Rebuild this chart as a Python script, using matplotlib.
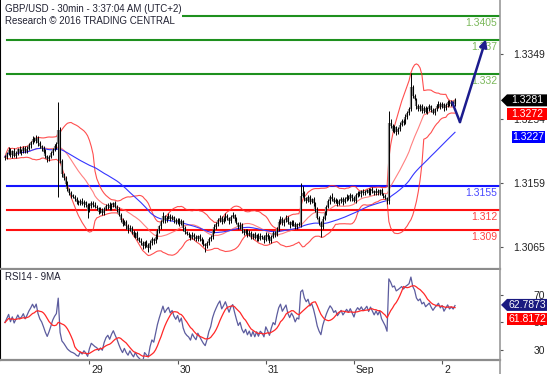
import numpy as np
import pandas as pd
import matplotlib
matplotlib.use('Agg')
import matplotlib.pyplot as plt
import matplotlib.transforms as mtransforms
from matplotlib.patches import Polygon, Rectangle
from matplotlib.lines import Line2D

plt.rcParams['font.family'] = ['Liberation Sans', 'DejaVu Sans']

# GBP/USD 30min closes, one per bar
first_open = 1.3196
closes = [
    1.3198, 1.3203, 1.3208, 1.3200, 1.3206, 1.3199, 1.3204, 1.3209, 1.3205, 1.3207, 1.3211, 1.3206, 1.3210,
    1.3215, 1.3219, 1.3224, 1.3221, 1.3226, 1.3218, 1.3213, 1.3210, 1.3205, 1.3199, 1.3194, 1.3198, 1.3203,
    1.3209, 1.3213, 1.3216,
    1.3238,
    1.3192, 1.3172, 1.3166, 1.3158, 1.3150, 1.3145, 1.3141, 1.3139, 1.3136, 1.3131, 1.3129,
    1.3133, 1.3128, 1.3131, 1.3126, 1.3118, 1.3125, 1.3130, 1.3127, 1.3124,
    1.3122, 1.3117, 1.3119, 1.3115, 1.3121,
    1.3125, 1.3127, 1.3122, 1.3126, 1.3129, 1.3124, 1.3119,
    1.3112, 1.3105, 1.3099, 1.3102,
    1.3095, 1.3090, 1.3093, 1.3087, 1.3082, 1.3085, 1.3078, 1.3074,
    1.3070, 1.3066, 1.3072, 1.3068, 1.3064, 1.3071,
    1.3076, 1.3073, 1.3080,
    1.3088, 1.3095, 1.3102,
    1.3110, 1.3104, 1.3108, 1.3111, 1.3106, 1.3109, 1.3104,
    1.3101, 1.3105, 1.3099, 1.3103,
    1.3093, 1.3087, 1.3084,
    1.3082, 1.3078, 1.3083, 1.3079, 1.3076, 1.3081, 1.3077,
    1.3073, 1.3069, 1.3066, 1.3070, 1.3076,
    1.3080, 1.3088, 1.3094, 1.3099, 1.3104, 1.3108, 1.3102, 1.3106, 1.3111, 1.3107, 1.3103, 1.3109, 1.3112, 1.3106,
    1.3100, 1.3094, 1.3097, 1.3090, 1.3086,
    1.3089, 1.3083, 1.3086, 1.3080, 1.3084,
    1.3078, 1.3082, 1.3077, 1.3081, 1.3079, 1.3075, 1.3083, 1.3079,
    1.3074, 1.3080, 1.3085, 1.3083, 1.3092, 1.3101,
    1.3106, 1.3100, 1.3104, 1.3108, 1.3101, 1.3097,
    1.3102, 1.3099, 1.3094, 1.3098, 1.3097,
    1.3140, 1.3145, 1.3137,
    1.3133, 1.3138, 1.3131, 1.3135, 1.3129,
    1.3120, 1.3108, 1.3100, 1.3094, 1.3106,
    1.3115, 1.3124, 1.3132, 1.3139, 1.3136, 1.3131,
    1.3134, 1.3128, 1.3132, 1.3136, 1.3131, 1.3135,
    1.3139, 1.3136, 1.3141, 1.3137, 1.3133,
    1.3141, 1.3145, 1.3143, 1.3147, 1.3144, 1.3146,
    1.3149, 1.3145, 1.3150, 1.3147, 1.3144,
    1.3148, 1.3145, 1.3149, 1.3143, 1.3140, 1.3137, 1.3132,
    1.3248,
    1.3243, 1.3236, 1.3241, 1.3234, 1.3239,
    1.3245, 1.3251, 1.3248, 1.3257,
    1.3262, 1.3268,
    1.3300,
    1.3288, 1.3283, 1.3272,
    1.3268, 1.3273, 1.3266, 1.3270,
    1.3264, 1.3268, 1.3272, 1.3267, 1.3263, 1.3268,
    1.3272, 1.3276, 1.3271, 1.3275, 1.3269,
    1.3274, 1.3279, 1.3275, 1.3278, 1.3276, 1.3281,
]

# wick sizes in pips above max(open, close) / below min(open, close)
wick_hi = [
    3, 2, 4, 3, 2, 5, 3, 2, 4, 3, 2, 3, 4, 3, 2, 5, 3, 4, 2, 3,
    2, 3, 4, 2, 3, 3, 2, 4, 3, 40, 4, 3, 2, 3, 4, 2, 3, 2, 3, 2,
    3, 2, 4, 3, 2, 3, 4, 2, 3, 4, 3, 2, 4, 3, 2, 3, 2, 4, 3, 2,
    3, 2, 4, 3, 2, 3, 2, 3, 4, 2, 3, 2, 3, 2, 4, 3, 2, 3, 2, 4,
    3, 2, 4, 3, 2, 3, 7, 2, 3, 4, 2, 3, 2, 4, 3, 2, 3, 2, 3, 2,
    3, 2, 4, 2, 3, 2, 3, 2, 3, 2, 4, 3, 2, 3, 4, 2, 3, 4, 2, 3,
    4, 3, 2, 3, 4, 2, 3, 2, 4, 3, 2, 3, 2, 4, 3, 2, 3, 2, 3, 4,
    2, 3, 4, 2, 3, 2, 3, 4, 2, 3, 4, 3, 2, 4, 3, 2, 3, 2, 3, 2,
    3, 19, 10, 3, 2, 4, 3, 2, 3, 2, 3, 2, 3, 4, 3, 2, 4, 3, 6, 2,
    3, 2, 4, 3, 2, 3, 4, 2, 3, 2, 3, 4, 2, 3, 2, 4, 3, 2, 3, 2,
    3, 2, 4, 3, 2, 3, 2, 3, 2, 18, 6, 3, 4, 2, 3, 4, 3, 2, 4, 3,
    3, 21, 4, 3, 2, 4, 3, 2, 3, 2, 3, 4, 2, 3, 2, 3, 4, 2, 3, 2,
    3, 2, 3, 4, 2, 3,
]
wick_lo = [
    3, 4, 2, 3, 4, 2, 3, 3, 2, 4, 3, 2, 3, 2, 4, 3, 2, 3, 4, 2,
    3, 2, 3, 4, 3, 2, 3, 2, 3, 78, 3, 4, 2, 3, 2, 3, 4, 2, 3, 3,
    2, 3, 2, 4, 3, 10, 2, 3, 4, 2, 3, 4, 2, 3, 3, 2, 4, 3, 2, 3,
    2, 3, 2, 4, 3, 2, 3, 4, 2, 3, 2, 4, 3, 2, 3, 4, 2, 3, 7, 2,
    3, 4, 2, 3, 2, 3, 2, 4, 3, 2, 3, 2, 4, 2, 3, 3, 2, 4, 3, 2,
    2, 3, 2, 4, 3, 2, 3, 4, 3, 8, 2, 3, 2, 3, 2, 3, 4, 2, 3, 2,
    3, 2, 4, 3, 2, 3, 2, 3, 2, 4, 3, 2, 3, 2, 4, 3, 2, 4, 3, 2,
    3, 4, 2, 3, 4, 3, 2, 3, 2, 3, 2, 3, 4, 2, 3, 4, 2, 3, 2, 3,
    2, 3, 2, 4, 3, 2, 3, 2, 4, 3, 2, 3, 15, 3, 2, 3, 2, 4, 3, 2,
    2, 3, 2, 3, 4, 2, 3, 2, 3, 4, 2, 3, 2, 3, 4, 2, 3, 2, 3, 4,
    2, 3, 2, 4, 3, 2, 3, 2, 4, 4, 3, 2, 3, 4, 2, 3, 2, 3, 2, 3,
    2, 3, 3, 2, 4, 3, 2, 3, 4, 2, 3, 2, 3, 2, 4, 3, 2, 3, 2, 3,
    2, 3, 2, 3, 2, 3,
]

day_ticks = [46, 94, 142, 190, 238]
day_labels = ['29', '30', '31', 'Sep', '2']
price_ticks = [1.3065, 1.3159, 1.3254, 1.3349]
rsi_ticks = [30, 50, 70]

green_levels = [1.3405, 1.337, 1.332]
blue_levels = [1.3155]
red_levels = [1.312, 1.309]

# analyst forecast path (bar index, price)
forecast_x = [243.5, 247.7, 261.8]
forecast_y = [1.3278, 1.3249, 1.3371]

# value tags on the right
price_tags = [(1.3281, '1.3281', 'black'), (1.3272, '1.3272', '#ff0000'), (1.3227, '1.3227', '#0000ff')]
rsi_tags = [(62.7873, '62.7873', '#1a1a80'), (61.8172, '61.8172', '#ff0000')]

# ---- indicators
s = pd.Series(closes)
bb_mid = s.rolling(20, min_periods=1).mean()
bb_sd = s.rolling(20, min_periods=1).std(ddof=0)
bb_up = bb_mid + 2 * bb_sd
bb_dn = bb_mid - 2 * bb_sd
ma50 = s.rolling(50, min_periods=1).mean()

delta = s.diff()
gain = delta.clip(lower=0)
loss = -delta.clip(upper=0)
gain.iloc[0] = loss.iloc[0] = 0.0003  # neutral seed
rsi = 100 - 100 / (1 + gain.ewm(alpha=1 / 14, adjust=False).mean() / loss.ewm(alpha=1 / 14, adjust=False).mean())
rsi_ma = rsi.rolling(9, min_periods=1).mean()

x = np.arange(len(closes))
opens = np.array([first_open] + closes[:-1])
cl = np.array(closes)
highs = np.maximum(opens, cl) + np.array(wick_hi) * 1e-4
lows = np.minimum(opens, cl) - np.array(wick_lo) * 1e-4

# ---- figure
W, H = 554, 374
fig = plt.figure(figsize=(W / 100, H / 100), dpi=100)
ax = fig.add_axes([0, 1 - 269 / H, 500 / W, 269 / H])
ax2 = fig.add_axes([0, 1 - 360 / H, 500 / W, 90 / H])

xlim = (-2.7, 269.5)
for a in (ax, ax2):
    a.set_xlim(*xlim)
    a.spines['top'].set_visible(False)
    a.spines['left'].set_color('black')
    a.spines['left'].set_linewidth(0.8)
    a.spines['right'].set_visible(False)
    a.spines['bottom'].set_color('#8c8c8c')
    a.spines['bottom'].set_linewidth(1.6)
    a.yaxis.tick_right()
    a.tick_params(axis='y', length=2.5, width=0.8, color='#555555', labelsize=7.5,
                  labelcolor='#222222', pad=30)
ax.set_ylim(1.30323, 1.3429)
ax2.set_ylim(22.7, 88.2)

# level lines
for lv in green_levels:
    ax.axhline(lv, xmin=0.014, color='#1e901e', lw=1.5)
    ax.annotate(f'{lv:g}', xy=(0.994, lv), xycoords=('axes fraction', 'data'), xytext=(0, -1.5),
                textcoords='offset points', ha='right', va='top', fontsize=7.5, color='#7ab85a')
for lv in blue_levels:
    ax.axhline(lv, xmin=0.014, color='#1414ff', lw=1.5)
    ax.annotate(f'{lv:g}', xy=(0.994, lv), xycoords=('axes fraction', 'data'), xytext=(0, -1.5),
                textcoords='offset points', ha='right', va='top', fontsize=7.5, color='#4848ff')
for lv in red_levels:
    ax.axhline(lv, xmin=0.014, color='#ff1010', lw=1.5)
    ax.annotate(f'{lv:g}', xy=(0.994, lv), xycoords=('axes fraction', 'data'), xytext=(0, -1.5),
                textcoords='offset points', ha='right', va='top', fontsize=7.5, color='#ff4040')

# indicators
ax.plot(x, bb_up, color='#ff3030', lw=0.8, alpha=0.85)
ax.plot(x, bb_dn, color='#ff3030', lw=0.8, alpha=0.85)
ax.plot(x, bb_mid, color='#ff6060', lw=0.8, alpha=0.8)
ax.plot(x, ma50, color='#3535ff', lw=0.8)

# price bars
ax.vlines(x, opens, cl, color='#8a8a8a', lw=1.6)
ax.vlines(x, lows, highs, color='black', lw=0.7)

# forecast arrow
navy = '#1c1c8e'
ax.plot(forecast_x[:2], forecast_y[:2], color=navy, lw=1.8, solid_capstyle='round')
ax.annotate('', xy=(forecast_x[2], forecast_y[2]), xytext=(forecast_x[1], forecast_y[1]),
            arrowprops=dict(arrowstyle='-|>', color=navy, lw=1.8, mutation_scale=11,
                            shrinkA=0, shrinkB=0))

ax.set_yticks(price_ticks)
ax.set_yticklabels([f'{t:.4f}' for t in price_ticks])
ax.set_xticks([])

# RSI panel
ax2.plot(x, rsi, color='#26267e', lw=0.9, alpha=0.75)
ax2.plot(x, rsi_ma, color='#ff2828', lw=0.9)
ax2.set_yticks(rsi_ticks)
ax2.set_yticklabels([str(t) for t in rsi_ticks])
ax2.set_xticks(day_ticks)
ax2.set_xticklabels(day_labels)
ax2.tick_params(axis='x', length=3, width=0.8, color='#555555', labelsize=7.5,
                labelcolor='#222222', pad=0.5)
shift = mtransforms.ScaledTranslation(2 / 100, 0, fig.dpi_scale_trans)
for lab in ax2.get_xticklabels():
    lab.set_ha('left')
    lab.set_transform(lab.get_transform() + shift)
for a in (ax, ax2):
    for lab in a.get_yticklabels():
        lab.set_ha('right')

# right frame line running full height
xr = 500 / W
fig.add_artist(Line2D([xr, xr], [0, 1], transform=fig.transFigure, color='#999999', lw=1.2))

# value tags, placed by value, stacked below if they overlap
ident = mtransforms.IdentityTransform()


def draw_tags(a, tags):
    xr_px = a.bbox.x1
    prev = None
    for val, txt, face in tags:
        yd = a.transData.transform((0, val))[1]
        pointer = prev is None
        if prev is not None and prev - yd < 13:
            yd = prev - 14
        h = 6
        if pointer:
            pts = [(xr_px + 1, yd), (xr_px + 7, yd + h), (xr_px + 47, yd + h),
                   (xr_px + 47, yd - h), (xr_px + 7, yd - h)]
            cx = xr_px + 27
        else:
            x0 = xr_px + (7 if face == '#ff0000' else 12)
            x1 = xr_px + (47 if face == '#ff0000' else 45)
            pts = [(x0, yd + h), (x1, yd + h), (x1, yd - h), (x0, yd - h)]
            cx = (x0 + x1) / 2
        fig.add_artist(Polygon(pts, closed=True, transform=ident, facecolor=face, edgecolor='none'))
        fig.text(cx, yd, txt, transform=ident, ha='center', va='center', fontsize=7.5, color='white')
        prev = yd


draw_tags(ax, price_tags)
draw_tags(ax2, rsi_tags)

# white block behind the header text (hides the top level line there)
fig.add_artist(Rectangle((0.8 / W, 1 - 27 / H), 181 / W, 27 / H, transform=fig.transFigure,
                         facecolor='white', edgecolor='none'))
fig.text(5 / W, 1 - 8.5 / H, 'GBP/USD - 30min - 3:37:04 AM (UTC+2)', fontsize=7, color='#222233', va='center')
fig.text(5 / W, 1 - 21 / H, 'Research \u00a9 2016 TRADING CENTRAL', fontsize=7, color='#222233', va='center')
fig.text(5 / W, 1 - 277 / H, 'RSI14 - 9MA', fontsize=7, color='#222233', va='center')

fig.savefig('out.png', dpi=100)
